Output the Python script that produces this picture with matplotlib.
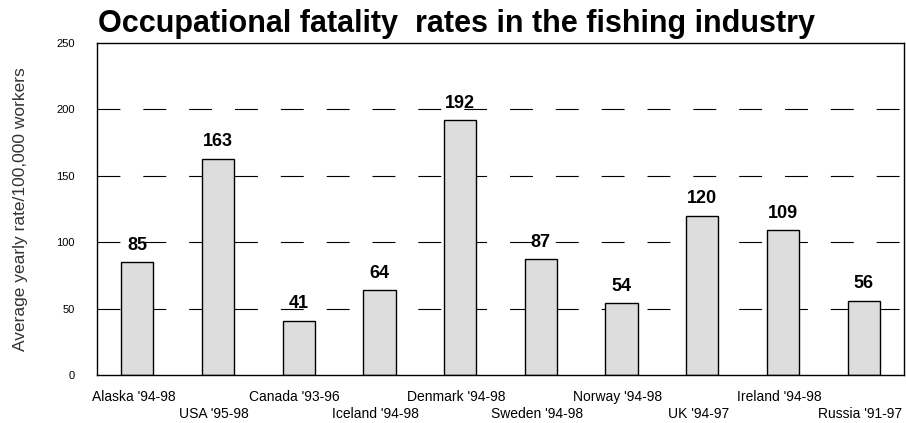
import matplotlib
matplotlib.use("Agg")
import matplotlib.pyplot as plt
from matplotlib.transforms import ScaledTranslation

plt.rcParams['font.family'] = ['Liberation Sans', 'DejaVu Sans']
plt.rcParams['lines.scale_dashes'] = False

# ---------------------------
# DATA
# ---------------------------
regions = ["Alaska '94-98", "USA '95-98", "Canada '93-96", "Iceland '94-98",
           "Denmark '94-98", "Sweden '94-98", "Norway '94-98", "UK '94-97",
           "Ireland '94-98", "Russia '91-97"]
rates = [85, 163, 41, 64, 192, 87, 54, 120, 109, 56]
yticks = [0, 50, 100, 150, 200, 250]

# ---------------------------
# PLOT
# ---------------------------
fig = plt.figure(figsize=(9.06, 4.23), dpi=100)
ax = fig.add_axes([97 / 906, 1 - 375 / 423, 807 / 906, 332 / 423])

x = range(len(regions))
bars = ax.bar(x, rates, width=0.4, color='#dddddd', edgecolor='black',
              linewidth=1.0, zorder=3)

for xi, v in zip(x, rates):
    ax.annotate(str(v), (xi, v), xytext=(0, 6), textcoords='offset points',
                ha='center', va='bottom', fontsize=13, fontweight='bold',
                zorder=4)

ax.set_xlim(-0.5, len(regions) - 0.5)
ax.set_ylim(0, 250)
ax.set_yticks(yticks)
ax.set_yticklabels([str(t) for t in yticks], fontsize=8)
ax.tick_params(axis='y', length=0, pad=16)

# staggered category labels: every second one drops to a second row
ax.set_xticks(list(x))
ax.set_xticklabels(regions, fontsize=10)
ax.tick_params(axis='x', length=0, pad=11)
for i, lab in enumerate(ax.get_xticklabels()):
    dy = -17 / 100 if i % 2 else 0
    lab.set_transform(lab.get_transform() +
                      ScaledTranslation(-4 / 100, dy, fig.dpi_scale_trans))

# dashed gridlines between 0 and the top
for t in yticks[1:-1]:
    ax.axhline(t, color='black', linewidth=0.8, linestyle=(0, (16.5, 16.5)),
               zorder=1)

for s in ax.spines.values():
    s.set_linewidth(1.0)
    s.set_zorder(5)

ax.set_ylabel("Average yearly rate/100,000 workers", fontsize=12.5,
              color='#333333', labelpad=20)

fig.text(98 / 906, 1 - 32 / 423,
         "Occupational fatality  rates in the fishing industry",
         fontsize=22, fontweight='bold', ha='left', va='baseline')

fig.savefig("out.png", dpi=100)
